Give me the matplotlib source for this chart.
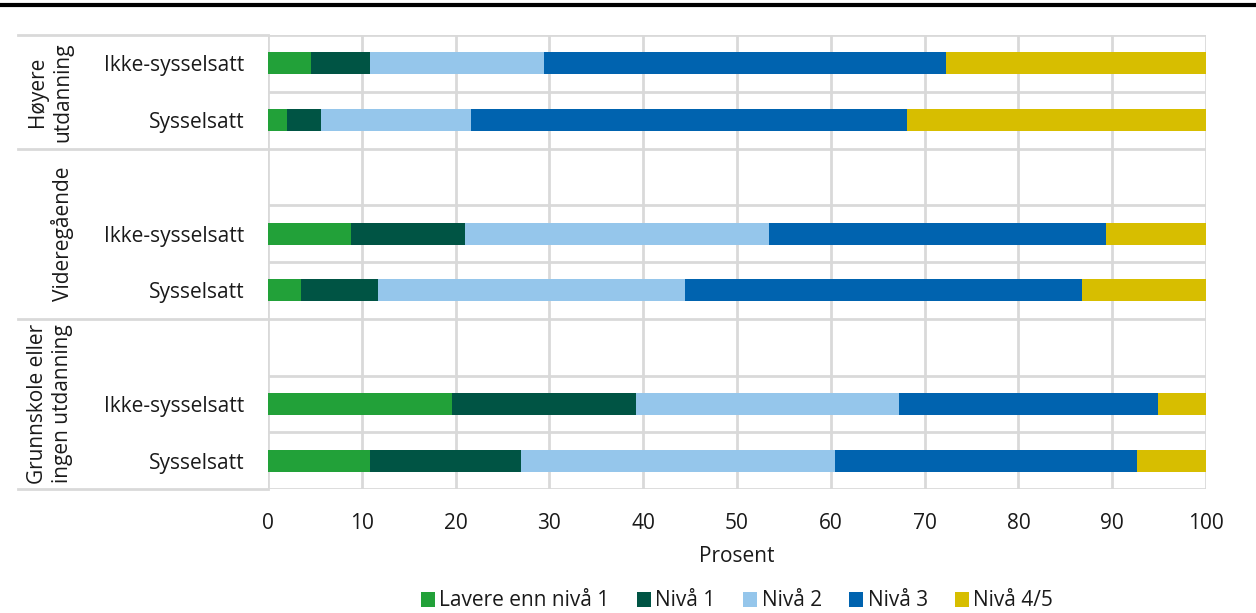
import matplotlib
matplotlib.use('Agg')
import matplotlib.pyplot as plt
from matplotlib.lines import Line2D
from matplotlib.patches import Patch
import matplotlib.transforms as mtransforms
import numpy as np

plt.rcParams['font.family'] = ['Open Sans', 'DejaVu Sans']

# one row per slot, top to bottom; '' = empty spacer slot
row_labels = ['Ikke-sysselsatt', 'Sysselsatt', '', 'Ikke-sysselsatt', 'Sysselsatt',
              '', 'Ikke-sysselsatt', 'Sysselsatt']
group_labels = ['Høyere\nutdanning', 'Videregående', 'Grunnskole eller\ningen utdanning']
group_slots = [(0, 1), (2, 4), (5, 7)]

series_names = ['Lavere enn nivå 1', 'Nivå 1', 'Nivå 2', 'Nivå 3', 'Nivå 4/5']
series_colors = ['#22a139', '#005444', '#95c6eb', '#0063af', '#d7be00']

# percent values per level, for rows in row_labels order (None for spacers)
lavere = [4.6, 2.0, None, 8.8, 3.5, None, 19.6, 10.9]
niva1 = [6.3, 3.7, None, 12.2, 8.2, None, 19.6, 16.1]
niva2 = [18.5, 15.9, None, 32.4, 32.8, None, 28.1, 33.4]
niva3 = [42.9, 46.5, None, 35.9, 42.3, None, 27.6, 32.2]
niva45 = [27.7, 31.9, None, 10.7, 13.2, None, 5.1, 7.4]

series = [lavere, niva1, niva2, niva3, niva45]

fs = 15
txt_c = '#1a1a1a'
grid_c = '#d9d9d9'

fig = plt.figure(figsize=(12.56, 6.13), dpi=100)
ax = fig.add_axes([268 / 1256, 1 - 489 / 613, 938 / 1256, 454 / 613])

n = len(row_labels)
y = np.arange(n)
left = np.zeros(n)
for name, vals, col in zip(series_names, series, series_colors):
    v = np.array([0 if x is None else x for x in vals], dtype=float)
    ax.barh(y, v, left=left, height=0.39, color=col, label=name, zorder=3)
    left += v

ax.set_xlim(0, 100)
ax.set_ylim(n - 0.5, -0.5)
ax.set_xticks(np.arange(0, 101, 10))
ax.set_yticks(y)
ax.set_yticklabels(row_labels)
ax.set_yticks(np.arange(-0.5, n, 1), minor=True)
ax.tick_params(axis='both', which='both', length=0, labelsize=fs, colors=txt_c)
ax.tick_params(axis='y', pad=17)
ax.tick_params(axis='x', pad=17)
ax.grid(True, axis='x', which='major', color=grid_c, lw=2, zorder=0)
ax.grid(True, axis='y', which='minor', color=grid_c, lw=2, zorder=0)
for s in ax.spines.values():
    s.set_visible(False)
ax.set_xlabel('Prosent', fontsize=fs, color=txt_c, labelpad=9)

# group separator lines reaching into label area
trans = mtransforms.blended_transform_factory(fig.transFigure, ax.transData)
for yb in [-0.5, 1.5, 4.5, 7.5]:
    fig.add_artist(Line2D([18 / 1256, 268 / 1256], [yb, yb], transform=trans,
                          color=grid_c, lw=2))

# group labels, rotated
gx = [50 / 1256, 62 / 1256, 50 / 1256]
for lab, (a, b), x in zip(group_labels, group_slots, gx):
    yc = (a - 0.5 + b + 0.5) / 2
    fig.text(x, yc, lab, transform=trans, rotation=90, ha='center', va='center',
             fontsize=fs, color=txt_c, linespacing=1.25)

# thick top rule
fig.add_artist(Line2D([0, 1], [1 - 5 / 613, 1 - 5 / 613], color='black', lw=3))

handles = [Patch(facecolor=c, edgecolor='none') for c in series_colors]
fig.legend(handles, series_names, loc='center', bbox_to_anchor=(737 / 1256, 1 - 601 / 613),
           ncol=5, frameon=False, fontsize=fs, handlelength=0.7, handleheight=0.7,
           handletextpad=0.2, columnspacing=1.3, labelcolor=txt_c)

fig.savefig('out.png', dpi=100)
